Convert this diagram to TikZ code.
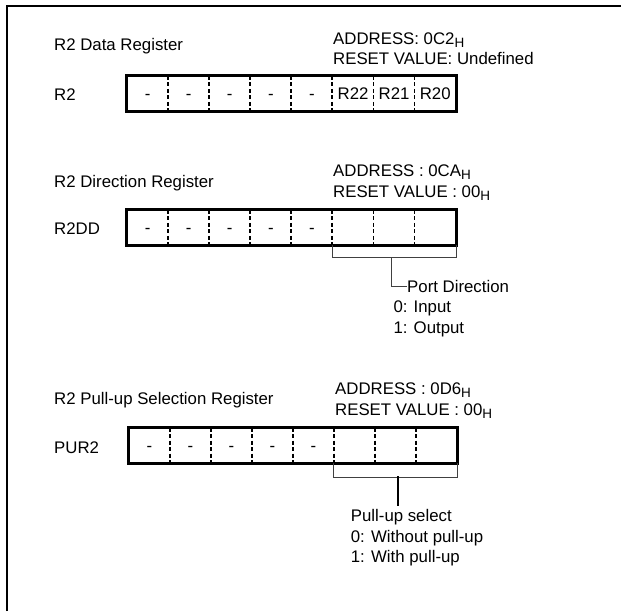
\documentclass[tikz,border=0pt]{standalone}
\usepackage{fontspec}
\setmainfont{Liberation Sans}
\usetikzlibrary{calc}

\newcommand\lowh{\raisebox{-0.35ex}{\fontsize{13.5}{14}\selectfont H}}

\tikzset{
  txt/.style={anchor=base west, inner sep=0pt, font=\fontsize{16.8}{19}\selectfont},
  cell/.style={minimum width=41.1pt, minimum height=35pt, inner sep=0pt,
    text height=12pt, text depth=0pt, font=\fontsize{16.8}{19}\selectfont},
  regbox/.style={line width=3pt},
  divider/.style={line width=1.8pt, dash pattern=on 4pt off 2.5pt},
  bracket/.style={line width=0.9pt, black!75},
  stem/.style={line width=2pt},
  frame/.style={line width=2pt},
}

\begin{document}
\begin{tikzpicture}[x=1pt,y=-1pt]
\useasboundingbox (0,0) rectangle (621,611);

% outer frame
\coordinate (fb) at (6.7,611);
\coordinate (fc) at (6.7,6);
\coordinate (fr) at (621,6);
\draw[frame] (fb) -- (fc) -- (fr);

% R2 data register
\node[txt] (r2title) at (54,50.7) {R2 Data Register};
\node[txt] (r2addr) at (333,44) {ADDRESS: 0C2\lowh};
\node[txt] (r2reset) at (333,64) {RESET VALUE: Undefined};
\node[txt] (r2name) at (54,100.7) {R2};
\foreach \i/\t in {7/-,6/-,5/-,4/-,3/-,2/R22,1/R21,0/R20}
  \node[cell] (r2b\i) at ({127+(7.5-\i)*41.1},93.5) {\t};
\draw[regbox] (r2b7.north west) rectangle (r2b0.south east);
\foreach \i in {6,...,0}
  \draw[divider] (r2b\i.north west) -- (r2b\i.south west);

% R2 direction register
\node[txt] (ddtitle) at (54,187.4) {R2 Direction Register};
\node[txt] (ddaddr) at (333,176.4) {ADDRESS : 0CA\lowh};
\node[txt] (ddreset) at (333,197.4) {RESET VALUE : 00\lowh};
\node[txt] (ddname) at (54,234.7) {R2DD};
\foreach \i/\t in {7/-,6/-,5/-,4/-,3/-,2/,1/,0/}
  \node[cell] (ddb\i) at ({127+(7.5-\i)*41.1},227.5) {\t};
\draw[regbox] (ddb7.north west) rectangle (ddb0.south east);
\foreach \i in {6,...,0}
  \draw[divider] (ddb\i.north west) -- (ddb\i.south west);

\node[txt] (portdir) at (407,292.4) {Port Direction};
\node[txt] (ddin) at (393.3,312.7) {0: Input};
\node[txt] (ddout) at (393.3,333.4) {1: Output};
\draw[bracket] (ddb2.south west) -- ++(0,12) coordinate (ddl)
  -| (ddb0.south east);
\coordinate (ddm) at (391.7,257.3);
\draw[bracket] (ddm) |- (portdir.west);

% R2 pull-up selection register
\node[txt] (putitle) at (54,404) {R2 Pull-up Selection Register};
\node[txt] (puaddr) at (335,394) {ADDRESS : 0D6\lowh};
\node[txt] (pureset) at (335,415) {RESET VALUE : 00\lowh};
\node[txt] (puname) at (54,453.4) {PUR2};
\foreach \i/\t in {7/-,6/-,5/-,4/-,3/-,2/,1/,0/}
  \node[cell] (pub\i) at ({129+(7.5-\i)*41},445.3) {\t};
\draw[regbox] (pub7.north west) rectangle (pub0.south east);
\foreach \i in {6,...,0}
  \draw[divider] (pub\i.north west) -- (pub\i.south west);

\node[txt] (pusel) at (350.7,521.7) {Pull-up select};
\node[txt] (puwo) at (350.7,542.4) {0: Without pull-up};
\node[txt] (puwi) at (350.7,562.4) {1: With pull-up};
\draw[bracket] (pub2.south west) -- ++(0,14) coordinate (pul)
  -| (pub0.south east);
\coordinate (pum) at (398,476);
\draw[stem] (pum) -- ++(0,30) coordinate (pue);

\end{tikzpicture}
\end{document}
